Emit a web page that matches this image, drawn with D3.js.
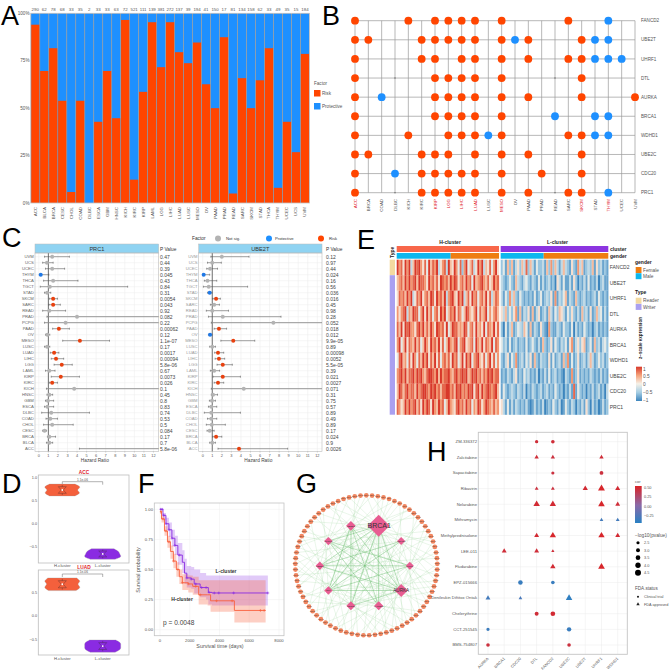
<!DOCTYPE html>
<html><head><meta charset="utf-8">
<script src="https://cdn.jsdelivr.net/npm/d3@7/dist/d3.min.js"></script>
<style>html,body{margin:0;padding:0;background:#fff}svg{display:block}text{font-family:"Liberation Sans",Arial,sans-serif}</style>
</head><body><svg id="c" width="669" height="670"></svg>
<script>
// ---------- Panel A ----------
const cancersA=["ACC","BLCA","BRCA","CESC","CHOL","COAD","DLBC","ESCA","GBM","HNSC","KICH","KIRC","KIRP","LAML","LGG","LIHC","LUAD","LUSC","MESO","OV","PAAD","PRAD","READ","SARC","SKCM","STAD","THCA","THYM","UCEC","UCS","UVM"];
const countsA=[290,62,78,68,33,35,2,33,33,63,72,521,111,139,381,272,137,39,194,41,150,17,81,134,158,62,33,49,35,15,184];
const riskShare=[.94,.696,.816,.539,.058,.539,0,.428,.696,.447,.965,.123,.586,.953,.716,.953,.795,.737,.846,.626,.5,.874,.05,.658,.5,.647,.816,.08,.428,.268,.786];
const shareTicks=[0,.25,.5,.75,1];
// ---------- Panel B ----------
const cancersB=["ACC","BRCA","COAD","DLBC","KICH","KIRC","KIRP","LGG","LIHC","LUAD","LUSC","MESO","OV","PAAD","PRAD","READ","SARC","SKCM","STAD","THYM","UCEC","UVM"];
const redCancersB=["ACC","KIRP","LGG","LIHC","LUAD","MESO","SKCM","THYM"];
const genesB=["FANCD2","UBE2T","UHRF1","DTL","AURKA","BRCA1","WDHD1","UBE2C","CDC20","PRC1"];
const riskB={FANCD2:"ACC KICH KIRP LGG LIHC LUAD MESO SARC",UBE2T:"ACC BRCA KIRC KIRP LGG LIHC LUAD MESO PAAD SKCM",UHRF1:"ACC KIRC KIRP LIHC LUAD MESO PAAD SARC SKCM",DTL:"ACC KIRP LGG LIHC LUAD MESO SKCM",AURKA:"ACC KIRP LGG LIHC LUAD MESO PAAD SKCM UVM",BRCA1:"ACC KIRP LGG LIHC LUAD MESO",WDHD1:"ACC KICH LGG LIHC LUAD MESO SARC SKCM",UBE2C:"ACC BRCA KIRC KIRP LGG LUAD MESO PAAD SKCM",CDC20:"ACC KIRC KIRP LGG LIHC LUAD MESO PRAD SKCM",PRC1:"ACC KIRC KIRP LGG LIHC LUAD MESO PAAD SARC SKCM"};
const protB={FANCD2:"THYM",UBE2T:"OV STAD THYM",UHRF1:"STAD THYM UCEC",DTL:"",AURKA:"COAD",BRCA1:"READ STAD THYM",WDHD1:"LUSC STAD THYM",UBE2C:"",CDC20:"DLBC",PRC1:"THYM"};
const naB={DTL:"DLBC READ",PRC1:"DLBC READ"};
// ---------- Panel C ----------
const cancersC=["UVM","UCS","UCEC","THYM","THCA","TGCT","STAD","SKCM","SARC","READ","PRAD","PCPG","PAAD","OV","MESO","LUSC","LUAD","LIHC","LGG","LAML","KIRP","KIRC","KICH","HNSC","GBM","ESCA","DLBC","COAD","CHOL","CESC","BRCA","BLCA","ACC"];
const hrPRC1=[1.4,.85,1.4,.2,1.5,1.15,.87,1.5,1.5,1.1,4,2.8,2.1,.9,4.3,.87,1.6,1.8,2.4,1.1,2.3,1.4,3.7,1.1,.95,.9,1.3,1.2,1.4,.6,1.1,1.1,NaN];
const lowPRC1=[.6,.4,.7,.05,.5,.15,.6,1.1,1.05,.4,.85,.6,1.45,.7,2.5,.6,1.2,1.3,1.6,.7,1.3,1.1,.8,.85,.7,.6,.3,.75,.5,.4,.9,.8,4.25];
const highPRC1=[3.2,1.5,2.7,1.05,4.1,9.3,1.25,1.95,2.25,2.8,14,14,3.2,1.15,7.4,1.15,2.1,2.6,3.5,1.7,4.25,1.95,14,1.45,1.55,1.55,5.3,1.95,3.6,.8,1.75,1.45,14];
const pPRC1=["0.47","0.44","0.39","0.045","0.43","0.84","0.31","0.0054","0.043","0.92","0.082","0.22","0.00062","0.12","1.1e-07","0.17","0.0017","0.00094","5.8e-06","0.67","0.0073","0.026","0.1","0.45","0.8","0.83","0.74","0.53","0.5","0.084","0.17","0.7","5.8e-06"];
const hrUBE2T=[2,1,.77,.1,.5,.63,.73,1.4,1.2,1,2.1,7.4,1.7,.77,3.2,1,1.6,1.7,2.1,1.2,2.1,1.6,4.3,1.08,.97,.9,.9,.9,.95,.73,1.4,1,3.8];
const lowUBE2T=[.85,.5,.42,.02,.17,.07,.5,1.05,.8,.38,.6,.9,1.2,.6,1.9,.73,1.25,1.3,1.5,.8,1.08,1.2,.9,.9,.7,.6,.17,.5,.38,.45,1.05,.73,1.6];
const highUBE2T=[4.85,1.95,1.55,.73,1.47,4.7,.97,1.85,1.75,2.7,8.2,14,2.5,.97,5.45,1.33,2.2,2.3,3.1,1.77,3.95,2.2,14,1.55,1.33,1.47,3.95,1.47,2.37,1.2,2,1.33,8.9];
const pUBE2T=["0.12","0.97","0.44","0.024","0.16","0.56","0.036","0.016","0.45","0.98","0.28","0.052","0.018","0.012","9.9e-05","0.89","0.00098","0.0052","5.5e-05","0.39","0.021","0.0027","0.071","0.31","0.75","0.57","0.89","0.49","0.89","0.17","0.024","0.9","0.0026"];
const hrTicks=[0,1,2,3,4,5,6,7,8,9,10,11,12];
// ---------- Panel D ----------
const violinFractions=[0,.25,.5,.75,1];
const violinACCH={hi:.86,lo:.6,w:[.72,1,.88,.98,.72]};
const violinACCL={hi:-.56,lo:-.79,w:[.62,.86,.95,1,.7]};
const violinLUADH={hi:.8,lo:.53,w:[.82,1,.9,1,.78]};
const violinLUADL={hi:-.52,lo:-.78,w:[.72,.98,1,.98,.7]};
const violinTicks=[-.5,0,.5,1];
// ---------- Panel E ----------
const heatGenes=["FANCD2","UBE2T","UHRF1","DTL","AURKA","BRCA1","WDHD1","UBE2C","CDC20","PRC1"];
const heatH=[
"9785979369897584968793578396597482794683597936584795",
"6786979789698875978685987869798578697849678976856978",
"5878697935879578698597869378965979368597847869583687",
"7578937698847959684785979468795874698657948679475786",
"8695989775897968697598785946988676984785967594876958",
"7946958769684697597869584697689478956784976958769487",
"4896748597486979586958478685978469597947896584795847",
"7897968897989768998796978897689789896798978687989788",
"6986897886978998798978688997869897879895896978987896",
"8756979789685979859769784697658978697847698579876867"];
const heatL=[
"2416261352638263142231627263136321521736123261523121",
"3212421632134213214131231205314113152021314121302311",
"3142736214212121412412325171324613216212312123142121",
"5362425716132516135123163142653142521316231512634131",
"2041361243264161321521072113214221403121421202312121",
"4231412312214124213162125142132415713525612416231342",
"2135142712314251621322151412316271412512313631242312",
"1213213512142312130213141231210321712512121321213121",
"1421232132130213212312312142120213181421202131231203",
"5314131321213101312130121421301421320213152031201312"];
const heatTicks=[1,.5,0,-.5,-1];
const genderLevels=["Female","Male"];
const typeLevels=["Reader","Writer"];
// ---------- Panel F ----------
const survT=[0,2000,4000,6000,8000];
const survY=[0,.25,.5,.75,1];
const lTime=[0,200,400,600,800,1000,1200,1500,1650,1800,2100,2300,2700,3100,3250,3500,7250];
const lSurv=[1,.95,.88,.83,.76,.7,.62,.56,.47,.43,.42,.38,.35,.35,.31,.305,.305];
const lUpper=[1,.97,.93,.89,.83,.78,.72,.66,.59,.53,.52,.5,.47,.45,.45,.45,.45];
const lLower=[1,.91,.83,.77,.69,.62,.54,.47,.38,.35,.34,.3,.27,.25,.21,.2,.2];
const hTime=[0,100,300,500,700,900,1100,1300,1500,1900,2200,2600,3200,3400,4900,5000,7100];
const hSurv=[.98,.92,.82,.73,.65,.57,.5,.44,.39,.38,.36,.29,.29,.24,.24,.16,.16];
const hUpper=[1,.95,.86,.78,.7,.63,.56,.5,.46,.45,.44,.41,.41,.41,.41,.41,.41];
const hLower=[.96,.89,.78,.68,.59,.51,.44,.38,.33,.31,.29,.21,.2,.15,.15,.06,.06];
const lCensor=[50,150,250,400,600,800,1000,1300,1800,2100,2400,2800,3100,3300,3650,3950,4950,7250];
const hCensor=[80,200,400,600,900,1200,1500,1900,2400,2700,3800,4850,6750,7000];
// ---------- Panel G ----------
const innerGenes=["BRCA1","WDHD1","PRC1","AURKA","FANCD2","CDC20","DTL","UBE2T","UHRF1","UBE2C"];
const innerSizes=[11,4,4,6.5,4.5,4.5,4.2,4.2,4.2,4.8];
const ringLabels=d3.range(1,78).map(i=>"target "+i);
const ringEdges={
BRCA1:[0,3,5,8,70,72,74,66,62,58,54,50,47,45,43,41,39,37,35,33,31,29,26,24,20,16],
WDHD1:[1,6,11,14,18,22,28,34,44,52,60,68],
PRC1:[9,13,17,21,25,30,36,42,48,56,64],
AURKA:[12,15,19,23,27,32,38,40,46,49,55,61,67,73],
FANCD2:[2,7,10,28,31,35,39,44,51,57,65,71],
CDC20:[4,11,16,20,24,33,37,41,53,59,63,75],
DTL:[6,14,22,29,34,43,47,52,58,62,69,76],
UBE2T:[3,9,18,26,36,45,50,54,60,66,72],
UHRF1:[1,8,13,25,30,42,48,56,63,68,74],
UBE2C:[0,5,10,15,23,32,40,46,55,61,70]};
const innerEdges=[["BRCA1","CDC20"],["BRCA1","FANCD2"],["BRCA1","DTL"],["BRCA1","UHRF1"],["BRCA1","AURKA"],["BRCA1","UBE2T"],["AURKA","DTL"],["AURKA","UHRF1"],["AURKA","UBE2T"],["AURKA","CDC20"],["AURKA","UBE2C"],["WDHD1","DTL"],["WDHD1","UBE2T"],["PRC1","UBE2T"],["PRC1","UHRF1"],["PRC1","DTL"],["FANCD2","UHRF1"],["FANCD2","UBE2C"],["CDC20","UBE2C"],["UBE2C","DTL"]];
// ---------- Panel H ----------
const drugs=["ZM-336372","Zalcitabine","Sapacitabine","Ribavirin","Nelarabine","Mithramycin","Methylprednisolone","LEE-011","Fludarabine","EPZ-015666","Denileukin Diftitox Ontak","Chelerythrine","CCT-251545","BMS-754807"];
const drugGenes=["AURKA","BRCA1","CDC20","DTL","FANCD2","UBE2C","UBE2T","UHRF1","WDHD1"];
const drugRow=["ZM-336372","ZM-336372","Zalcitabine","Zalcitabine","Zalcitabine","Sapacitabine","Sapacitabine","Ribavirin","Ribavirin","Ribavirin","Ribavirin","Ribavirin","Nelarabine","Nelarabine","Nelarabine","Nelarabine","Mithramycin","Mithramycin","Methylprednisolone","Methylprednisolone","Methylprednisolone","Methylprednisolone","LEE-011","LEE-011","LEE-011","Fludarabine","Fludarabine","EPZ-015666","EPZ-015666","Denileukin Diftitox Ontak","Denileukin Diftitox Ontak","Denileukin Diftitox Ontak","Chelerythrine","Chelerythrine","CCT-251545","CCT-251545","BMS-754807","BMS-754807"];
const drugCol=["DTL","FANCD2","DTL","FANCD2","UHRF1","FANCD2","UHRF1","DTL","FANCD2","UBE2T","UHRF1","WDHD1","DTL","FANCD2","UHRF1","WDHD1","UHRF1","WDHD1","DTL","FANCD2","UHRF1","WDHD1","BRCA1","DTL","FANCD2","FANCD2","UHRF1","CDC20","FANCD2","AURKA","CDC20","UBE2C","DTL","FANCD2","AURKA","UBE2C","AURKA","UBE2C"];
const drugCor=[.45,.45,.45,.42,.45,.42,.42,.42,.42,.47,.5,.47,.47,.47,.5,.45,-.22,-.22,.47,.5,.5,.47,.45,.45,.45,.47,.5,-.25,-.25,-.22,-.2,-.28,.45,.47,-.24,-.25,.42,.42];
const drugLogP=[2.6,2.8,2.9,2.9,2.9,2.5,2.9,2.6,2.6,3.4,4.5,3.3,4.2,4.1,4.3,3.2,2.5,2.6,3.2,4.1,4.1,3.2,3.2,3.2,2.3,3.5,4.4,3.4,2.8,3.2,2.5,4.2,3,3.5,2.6,3.3,2.8,2.8];
const drugFDA=[0,0,1,1,1,0,0,1,1,1,1,1,1,1,1,1,1,1,1,1,1,1,1,1,1,1,1,0,0,1,1,1,0,0,0,0,0,0];
const corTicks=[.5,.25,0,-.25];
const logPLegend=[2.5,3,3.5,4,4.5];
const fdaLevels=["Clinical trial","FDA approved"];

// ---------- Drawing ----------
const svg=d3.select("#c");
svg.append("rect").attr("width",669).attr("height",670).attr("fill","#fff");
const defs=svg.append("defs");
defs.append("filter").attr("id","soft").attr("x","-2%").attr("y","-2%").attr("width","104%").attr("height","104%").append("feGaussianBlur").attr("stdDeviation","0.55 0.2");
const RISK="#ff4500",PROT="#1e90ff",GREY="#555";
function T(g,x,y,s,size,o={}){const t=g.append("text").attr("x",x).attr("y",y).text(s).attr("font-size",size).attr("fill",o.fill||GREY).attr("text-anchor",o.anchor||"start");
 if(o.weight)t.attr("font-weight",o.weight); if(o.rot!==undefined)t.attr("transform",`rotate(${o.rot},${x},${y})`); if(o.family)t.style("font-family",o.family); return t;}
function box(g,x0,y0,x1,y1,st="#bbb",sw=.7,fill="none"){g.append("rect").attr("x",x0).attr("y",y0).attr("width",x1-x0).attr("height",y1-y0).attr("fill",fill).attr("stroke",st).attr("stroke-width",sw);}
[["A",1,24.5],["B",322,24.5],["C",2,247],["D",2,493],["E",357,249],["F",138,493],["G",296,493],["H",427,461]].forEach(d=>T(svg,d[1],d[2],d[0],27,{fill:"#000"}));

// A
(function(){const g=svg.append("g");
 const x=d3.scaleBand().domain(cancersA).range([30.7,309.5]).paddingInner(0.09).paddingOuter(0.05);
 const y=d3.scaleLinear().domain([0,1]).range([203,13.3]);
 g.append("rect").attr("x",30.7).attr("y",13.3).attr("width",278.8).attr("height",189.7).attr("fill","#a3a3a3");
 g.selectAll(".p").data(cancersA).join("rect").attr("x",d=>x(d)).attr("width",x.bandwidth()).attr("y",y(1)).attr("height",y(0)-y(1)).attr("fill",PROT);
 g.selectAll(".r").data(cancersA).join("rect").attr("x",d=>x(d)).attr("width",x.bandwidth()).attr("y",(d,i)=>y(riskShare[i])).attr("height",(d,i)=>y(0)-y(riskShare[i])).attr("fill",RISK);
 box(g,30.7,13.3,309.5,203,"#c4c4c4",.8);
 shareTicks.forEach(v=>{T(g,29.5,y(v)+1.6,d3.format(".0%")(v),4.6,{anchor:"end"});});
 cancersA.forEach((c,i)=>{const cx=x(c)+x.bandwidth()/2;T(g,cx,11,countsA[i],4.4,{anchor:"middle"});T(g,cx+1.5,207,c,4.4,{anchor:"end",rot:-90});});
 T(g,314,85,"Factor",4.6);
 [["Risk",RISK,90],["Protective",PROT,103]].forEach(d=>{g.append("rect").attr("x",314).attr("y",d[2]).attr("width",6.5).attr("height",6.5).attr("fill",d[1]);T(g,322,d[2]+5,d[0],4.6);});
})();

// B
(function(){const g=svg.append("g");
 const x=d3.scalePoint().domain(cancersB).range([355,635]);
 const y=d3.scalePoint().domain(genesB).range([20.7,192.7]);
 cancersB.forEach(c=>g.append("line").attr("x1",x(c)).attr("x2",x(c)).attr("y1",y("FANCD2")).attr("y2",y("PRC1")).attr("stroke","#9a9a9a").attr("stroke-width",.7));
 genesB.forEach(c=>g.append("line").attr("x1",x("ACC")).attr("x2",x("UVM")).attr("y1",y(c)).attr("y2",y(c)).attr("stroke","#9a9a9a").attr("stroke-width",.7));
 const dots=(src,col,r)=>genesB.forEach(gn=>(src[gn]||"").split(" ").filter(Boolean).forEach(c=>g.append("circle").attr("cx",x(c)).attr("cy",y(gn)).attr("r",r).attr("fill",col)));
 dots(naB,"#666",.7);dots(riskB,RISK,3.9);dots(protB,PROT,3.9);
 cancersB.forEach(c=>T(g,x(c)+1.5,199,c,4.4,{anchor:"end",rot:-90,fill:redCancersB.includes(c)?"#e0202a":GREY}));
 genesB.forEach(c=>T(g,641,y(c)+1.6,c,4.6));
})();

// C
function forest(x0,x1,title,hr,lo,hi,ps,pX,dom){
 const g=svg.append("g");
 const x=d3.scaleLinear().domain(dom).range([x0,x1]).clamp(true);
 const y=d3.scalePoint().domain(cancersC).range([256.7,448.7]);
 const top=253,bot=451.5;
 hrTicks.forEach(t=>g.append("line").attr("x1",x(t)).attr("x2",x(t)).attr("y1",top).attr("y2",bot).attr("stroke","#eaeaea").attr("stroke-width",.5));
 cancersC.forEach(c=>g.append("line").attr("x1",x0).attr("x2",x1).attr("y1",y(c)).attr("y2",y(c)).attr("stroke","#efefef").attr("stroke-width",.5));
 g.append("rect").attr("x",x0).attr("y",244).attr("width",x1-x0).attr("height",9).attr("fill","#8fd3f2").attr("stroke","#bbb").attr("stroke-width",.5);
 T(g,(x0+x1)/2,250.8,title,5.6,{anchor:"middle",fill:"#333"});
 g.append("line").attr("x1",x(1)).attr("x2",x(1)).attr("y1",top).attr("y2",bot).attr("stroke","#333").attr("stroke-width",.7);
 box(g,x0,top,x1,bot,"#bbb",.6);
 cancersC.forEach((c,i)=>{const cy=y(c);
  const clipped=hi[i]>12.6;
  g.append("line").attr("x1",x(lo[i])).attr("x2",x(hi[i])).attr("y1",cy).attr("y2",cy).attr("stroke",clipped?"#8c8c8c":"#555").attr("stroke-width",clipped?.9:.55);
  g.append("line").attr("x1",x(lo[i])).attr("x2",x(lo[i])).attr("y1",cy-1).attr("y2",cy+1).attr("stroke","#444").attr("stroke-width",.5);
  if(!clipped)g.append("line").attr("x1",x(hi[i])).attr("x2",x(hi[i])).attr("y1",cy-1).attr("y2",cy+1).attr("stroke","#444").attr("stroke-width",.5);
  if(!isNaN(hr[i])){const p=+ps[i];const col=p>=.05?"#b3b3b3":hr[i]<1?"#1e78e6":"#e8410f";
   g.append("circle").attr("cx",x(hr[i])).attr("cy",cy).attr("r",2).attr("fill",col);}
  T(g,x0-1.2,cy+1.5,c,4.2,{anchor:"end",fill:x0>100?"#999":"#666"});
  T(g,pX,cy+1.9,ps[i],5,{fill:"#444"});
 });
 T(g,pX,250.5,"P Value",4.8,{fill:"#333"});
 hrTicks.forEach(t=>{g.append("line").attr("x1",x(t)).attr("x2",x(t)).attr("y1",bot).attr("y2",bot+1).attr("stroke","#888").attr("stroke-width",.4);T(g,x(t),457,t,3.9,{anchor:"middle"});});
 T(g,(x0+x1)/2-2,462,"Hazard Ratio",4.8,{anchor:"middle",fill:"#444"});
}
forest(35,158.7,"PRC1",hrPRC1,lowPRC1,highPRC1,pPRC1,160,[-.4,12.55]);
forest(198.7,322,"UBE2T",hrUBE2T,lowUBE2T,highUBE2T,pUBE2T,326,[-.42,12.49]);
(function(){const g=svg.append("g");T(g,192,240,"Factor",4.8,{fill:"#333"});
 [["Not sig.","#b3b3b3",218,226],["Protective",PROT,269,275],["Risk",RISK,321,329]].forEach(d=>{g.append("circle").attr("cx",d[2]).attr("cy",238.5).attr("r",3).attr("fill",d[1]);T(g,d[3],240,d[0],4.2,{fill:"#333"});});
})();

// D
function violinPanel(y0,y1,ydom,yrange,name,hv,lv,ticks,xLabelY,brY,titleY){
 const g=svg.append("g");
 const y=d3.scaleLinear().domain(ydom).range(yrange);
 box(g,38.3,y0,129,y1,"#bdbdbd",.8);
 T(g,84,titleY,name,4.8,{anchor:"middle",fill:"#e0202a",weight:"bold"});
 ticks.forEach(t=>T(g,37,y(t)+1.5,d3.format(".1f")(t).replace("-","\u2212"),3.8,{anchor:"end"}));
 const x=d3.scalePoint().domain(["H-cluster","L-cluster"]).range([62.3,102.7]);
 x.domain().forEach(c=>T(g,x(c),xLabelY,c,4.2,{anchor:"middle"}));
 g.append("path").attr("fill","none").attr("stroke","#666").attr("stroke-width",.5).attr("d",`M${x("H-cluster")},${brY+3}V${brY}H${x("L-cluster")}V${brY+3}`);
 T(g,82.5,brY-1,"1.1e-06",3.2,{anchor:"middle"});
 [["H-cluster",hv,"#f4603c",17.5],["L-cluster",lv,"#8a2be2",18]].forEach(a=>{const v=a[1],cx=x(a[0]);
  const data=violinFractions.map((f,i)=>({v:v.hi+(v.lo-v.hi)*f,w:v.w[i]*a[3]}));
  g.append("path").attr("fill",a[2]).attr("stroke","#999").attr("stroke-width",.3)
   .attr("d",d3.area().x0(d=>cx-d.w).x1(d=>cx+d.w).y(d=>y(d.v)).curve(d3.curveCatmullRom)(data));
  const m=(v.hi+v.lo)/2,q=(v.hi-v.lo)*.28,yT=y(v.hi-0.02),yB=y(v.lo+0.02),a1=y(m+q),a2=y(m-q),ym=y(m);
  g.append("path").attr("fill","none").attr("stroke","#3a2a2a").attr("stroke-width",.35).attr("d",`M${cx},${yT}V${a1}M${cx},${a2}V${yB}M${cx-4},${a1}H${cx+4}L${cx+1},${ym}L${cx+4},${a2}H${cx-4}L${cx-1},${ym}Z`);
  g.append("circle").attr("cx",cx).attr("cy",ym).attr("r",.9).attr("fill","#fff");
 });
}
violinPanel(475,563,[1,-.5],[477.7,546],"ACC",violinACCH,violinACCL,violinTicks,566.5,481.7,474);
violinPanel(570,655,[.5,-.5],[592,639],"LUAD",violinLUADH,violinLUADL,[-.5,0,.5],660,574,568.5);

// E
(function(){const g=svg.append("g");
 const color=d3.scaleLinear().domain([-1,-.5,0,.5,1]).range(["#3d85bd","#a5cde3","#f5f1e8","#f5a27a","#d8392b"]);
 const y=d3.scaleBand().domain(heatGenes).range([259.7,414.7]);
 const val=ch=>(+ch)/9*2-1;
 [[heatH,396.7,499],[heatL,500.7,608.3]].forEach(c=>{const cg=g.append("g").attr("filter","url(#soft)");c[0].forEach((s,r)=>{const chars=Array.from(s);
   const x=d3.scaleBand().domain(d3.range(chars.length)).range([c[1],c[2]]);
   cg.selectAll(null).data(chars).join("rect").attr("x",(d,i)=>x(i)).attr("y",y(heatGenes[r])).attr("width",x.bandwidth()+.15).attr("height",y.bandwidth()+.1).attr("fill",d=>color(val(d)));});});
 heatGenes.forEach(n=>T(g,609.7,y(n)+y.bandwidth()/2+1.8,n,5,{fill:"#444"}));
 const rectF=(x0,y0,x1,y1,f)=>g.append("rect").attr("x",x0).attr("y",y0).attr("width",x1-x0).attr("height",y1-y0).attr("fill",f);
 const F="#ee7d11",M="#0db7ee",R="#f3d9a0",W="#aaa0f0";
 rectF(396.7,246,499,252,"#f8674a");rectF(500.7,246,608.3,252,"#8c35e0");
 rectF(396.7,253,450.7,258.7,M);rectF(450.7,253,499,258.7,F);rectF(500.7,253,543.7,258.7,M);rectF(543.7,253,608.3,258.7,F);
 rectF(389.7,259.7,395,y("UBE2T"),R);rectF(389.7,y("UBE2T"),395,414.7,W);
 T(g,450,244,"H-cluster",5,{anchor:"middle",fill:"#222",weight:"bold"});
 T(g,557.5,244,"L-cluster",5,{anchor:"middle",fill:"#222",weight:"bold"});
 T(g,610,251,"cluster",5,{fill:"#222",weight:"bold"});T(g,610,258,"gender",5,{fill:"#222",weight:"bold"});
 T(g,394,258,"Type",5,{fill:"#222",weight:"bold",rot:-90});
 T(g,635,263.5,"gender",5,{fill:"#222",weight:"bold"});
 genderLevels.forEach((n,i)=>{rectF(635.7,267+i*6.2,641.5,273+i*6.2,i?M:F);T(g,643,271.6+i*6.2,n,4.8,{fill:"#555"});});
 T(g,635,294,"Type",5,{fill:"#222",weight:"bold"});
 typeLevels.forEach((n,i)=>{rectF(635.7,297.7+i*6.2,641.5,303.7+i*6.2,i?W:R);T(g,643,302.3+i*6.2,n,4.8,{fill:"#555"});});
 T(g,642,338,"z\u2212scale expression",4.6,{fill:"#222",weight:"bold",rot:-90,anchor:"middle"});
 const gr=defs.append("linearGradient").attr("id","hg").attr("x1",0).attr("x2",0).attr("y1",0).attr("y2",1);
 heatTicks.forEach(t=>gr.append("stop").attr("offset",(1-(t+1)/2)*100+"%").attr("stop-color",color(t)));
 rectF(636,366.7,642,401,"url(#hg)");
 const yy=d3.scaleLinear().domain([1,-1]).range([368.7,399.7]);
 heatTicks.forEach(t=>T(g,643,yy(t)+1.8,String(t).replace("-","\u2212"),4.8,{fill:"#555"}));
})();

// F
(function(){const g=svg.append("g");
 const x=d3.scaleLinear().domain([0,8000]).range([160,279]);
 const y=d3.scaleLinear().domain([0,1]).range([629.7,509.3]);
 survT.forEach(t=>g.append("line").attr("x1",x(t)).attr("x2",x(t)).attr("y1",503).attr("y2",635.7).attr("stroke","#eee").attr("stroke-width",.5));
 survY.forEach(t=>g.append("line").attr("x1",154.3).attr("x2",284).attr("y1",y(t)).attr("y2",y(t)).attr("stroke","#eee").attr("stroke-width",.5));
 const band=(t,u,l,col)=>g.append("path").attr("fill",col).attr("fill-opacity",.3).attr("d",d3.area().x((d,i)=>x(t[i])).y0((d,i)=>y(l[i])).y1((d,i)=>y(u[i])).curve(d3.curveStepAfter)(t));
 band(lTime,lUpper,lLower,"#9a4fe8");band(hTime,hUpper,hLower,"#f9603d");
 const curve=(t,s,col,cs)=>{g.append("path").attr("fill","none").attr("stroke",col).attr("stroke-width",.9).attr("d",d3.line().x((d,i)=>x(t[i])).y((d,i)=>y(s[i])).curve(d3.curveStepAfter)(t));
  cs.forEach(c=>{let k=d3.bisectRight(t,c)-1;const px=x(c),py=y(s[Math.max(k,0)]);g.append("path").attr("stroke",col).attr("stroke-width",.6).attr("d",`M${px-1.4},${py}H${px+1.4}M${px},${py-1.4}V${py+1.4}`);});};
 curve(lTime,lSurv,"#8a2be2",lCensor);curve(hTime,hSurv,"#f9603d",hCensor);
 box(g,154.3,503,284,635.7,"#c4c4c4",.8);
 survT.forEach(t=>T(g,x(t),642,t,4.2,{anchor:"middle"}));
 survY.forEach(t=>T(g,153,y(t)+1.5,d3.format(".2f")(t),4.2,{anchor:"end"}));
 T(g,220,647.5,"Survival time (days)",5.4,{anchor:"middle"});
 T(g,140,570,"Survival probability",5.4,{anchor:"middle",rot:-90});
 T(g,226,572.5,"L-cluster",5,{anchor:"middle",fill:"#333",weight:"bold"});
 T(g,182,600.5,"H-cluster",5,{anchor:"middle",fill:"#333",weight:"bold"});
 T(g,163,625,"p = 0.0048",6.6,{fill:"#444"});
})();

// G
(function(){const g=svg.append("g");
 const cx=366.3,cy=565.3;
 const ringA=d3.scaleLinear().domain([0,ringLabels.length]).range([0,2*Math.PI]);
 const ringP=i=>[cx+71*Math.sin(ringA(i)),cy-70*Math.cos(ringA(i))];
 const innerA=d3.scalePoint().domain(innerGenes).range([18,18+36*9]);
 const innerP=n=>{const a=innerA(n)*Math.PI/180;return [cx-1.5+45*Math.sin(a),cy+.5-42*Math.cos(a)];};
 innerGenes.forEach(n=>ringEdges[n].forEach(i=>{const a=innerP(n),b=ringP(i);g.append("line").attr("x1",a[0]).attr("y1",a[1]).attr("x2",b[0]).attr("y2",b[1]).attr("stroke","#8fcf8f").attr("stroke-opacity",.42).attr("stroke-width",.45);}));
 innerEdges.forEach(e=>{const a=innerP(e[0]),b=innerP(e[1]);g.append("line").attr("x1",a[0]).attr("y1",a[1]).attr("x2",b[0]).attr("y2",b[1]).attr("stroke","#6fbf73").attr("stroke-opacity",.6).attr("stroke-width",.8);});
 ringLabels.forEach((l,i)=>{const p=ringP(i);g.append("circle").attr("cx",p[0]).attr("cy",p[1]).attr("r",2.35).attr("fill","#f0855f");T(g,p[0],p[1]+.5,l,1.35,{anchor:"middle",fill:"#333"});});
 innerGenes.forEach((n,i)=>{const p=innerP(n),s=innerSizes[i];g.append("path").attr("fill","#e85d92").attr("d",`M${p[0]},${p[1]-s}L${p[0]+s},${p[1]}L${p[0]},${p[1]+s}L${p[0]-s},${p[1]}Z`);
  const big=n==="BRCA1",md=n==="AURKA";T(g,p[0]+(big?.5:0),p[1]+(big?2.2:md?1.5:.8),n,big?7:md?4.6:2.4,{anchor:"middle",fill:"#333"});});
})();

// H
(function(){const g=svg.append("g");
 const x=d3.scalePoint().domain(drugGenes).range([488,617.7]);
 const y=d3.scalePoint().domain(drugs).range([441.7,645]);
 const col=d3.scaleLinear().domain([-.28,0,.5]).range(["#2f7fc1","#8a6aa8","#d7262b"]);
 const rad=d3.scaleSqrt().domain([2.3,4.5]).range([1.4,3]);
 drugs.forEach(d=>g.append("line").attr("x1",478.3).attr("x2",627.3).attr("y1",y(d)).attr("y2",y(d)).attr("stroke","#eaeaea").attr("stroke-width",.5));
 drugGenes.forEach(d=>g.append("line").attr("x1",x(d)).attr("x2",x(d)).attr("y1",432.3).attr("y2",654.3).attr("stroke","#eaeaea").attr("stroke-width",.5));
 box(g,478.3,432.3,627.3,654.3,"#c4c4c4",.9);
 const sym=d3.symbol();
 drugRow.forEach((r,i)=>{const R=rad(drugLogP[i]);const fda=drugFDA[i];
  g.append("path").attr("transform",`translate(${x(drugCol[i])},${y(r)})`).attr("fill",col(drugCor[i]))
   .attr("d",sym.type(fda?d3.symbolTriangle:d3.symbolCircle).size(fda?R*R*2.3:Math.PI*R*R)());});
 drugs.forEach(d=>T(g,477,y(d)+1.4,d,4.2,{anchor:"end"}));
 drugGenes.forEach(d=>T(g,x(d)+1,659,d,4,{anchor:"end",rot:-45}));
 T(g,635,483,"cor",4,{});
 const gr=defs.append("linearGradient").attr("id","cg").attr("x1",0).attr("x2",0).attr("y1",0).attr("y2",1);
 [[0,.52],[.52,0],[1,-.3]].forEach(s=>gr.append("stop").attr("offset",s[0]).attr("stop-color",col(s[1])));
 g.append("rect").attr("x",635).attr("y",486).attr("width",6.7).attr("height",37).attr("fill","url(#cg)");
 const yc=d3.scaleLinear().domain([.5,-.25]).range([487.3,516]);
 corTicks.forEach(t=>T(g,644,yc(t)+1.4,d3.format(".2f")(t).replace("-","\u2212"),3.8));
 T(g,635,536.5,"\u2212log10(pvalue)",4.8);
 const yl=d3.scalePoint().domain(logPLegend).range([542.7,572.7]);
 logPLegend.forEach(v=>{g.append("circle").attr("cx",638).attr("cy",yl(v)).attr("r",rad(v)).attr("fill","#000");T(g,644,yl(v)+1.4,d3.format(".1f")(v),3.8);});
 T(g,635,590,"FDA.status",4.6);
 fdaLevels.forEach((n,i)=>{g.append("path").attr("transform",`translate(638,${596.7+i*7.5})`).attr("fill","#222").attr("d",sym.type(i?d3.symbolTriangle:d3.symbolCircle).size(i?5:3.5)());T(g,644,598.2+i*7.5,n,3.8);});
})();
</script></body></html>
